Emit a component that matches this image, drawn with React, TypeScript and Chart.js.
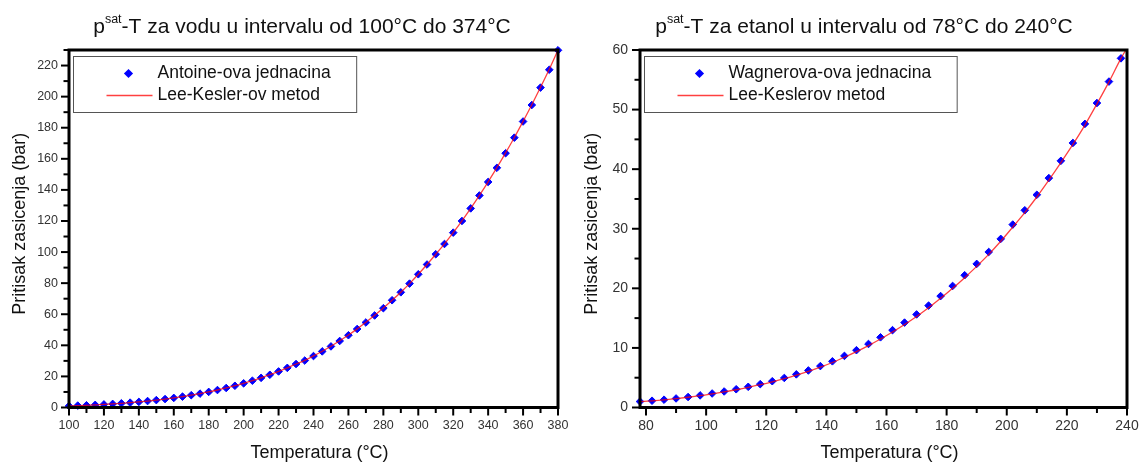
import React, { useEffect, useRef } from 'react';
import { Chart, registerables } from 'chart.js';

Chart.register(...registerables);

const FONT = '"Liberation Sans", Arial, Helvetica, sans-serif';

// ---------- Water (left panel) ----------
const waterTemps = [
  100, 105, 110, 115, 120, 125, 130, 135, 140, 145, 150, 155, 160, 165, 170, 175, 180, 185, 190,
  195, 200, 205, 210, 215, 220, 225, 230, 235, 240, 245, 250, 255, 260, 265, 270, 275, 280, 285,
  290, 295, 300, 305, 310, 315, 320, 325, 330, 335, 340, 345, 350, 355, 360, 365, 370, 375, 380,
];
const waterAntoine = [
  1.01, 1.21, 1.43, 1.69, 1.99, 2.32, 2.7, 3.13, 3.61, 4.15, 4.76, 5.43, 6.18, 7.0, 7.92, 8.92,
  10.03, 11.23, 12.55, 13.99, 15.55, 17.24, 19.08, 21.06, 23.2, 25.5, 27.97, 30.2, 33.1, 36.1,
  39.3, 42.8, 46.5, 50.5, 54.7, 59.2, 63.9, 69.0, 74.1, 79.7, 85.7, 92.0, 98.6, 105.2, 112.5,
  120.0, 128.1, 136.4, 145.1, 154.2, 163.6, 173.6, 184.0, 194.6, 205.8, 217.3, 229.8,
];
const waterLeeKesler = [
  1.0, 1.2, 1.43, 1.7, 1.99, 2.33, 2.71, 3.14, 3.62, 4.16, 4.77, 5.44, 6.19, 7.02, 7.94, 8.95,
  10.05, 11.26, 12.58, 14.02, 15.58, 17.27, 19.11, 21.09, 23.23, 25.53, 28.0, 30.3, 33.2, 36.2,
  39.4, 42.9, 46.6, 50.6, 54.8, 59.3, 64.0, 69.0, 74.2, 79.7, 85.7, 92.0, 98.6, 105.3, 112.5,
  120.1, 128.1, 136.5, 145.2, 154.3, 163.8, 173.7, 184.1, 194.8, 206.0, 217.6, 230.0,
];

// ---------- Ethanol (right panel) ----------
const ethanolTemps = [
  78, 82, 86, 90, 94, 98, 102, 106, 110, 114, 118, 122, 126, 130, 134, 138, 142, 146, 150, 154,
  158, 162, 166, 170, 174, 178, 182, 186, 190, 194, 198, 202, 206, 210, 214, 218, 222, 226, 230,
  234, 238,
];
const ethanolWagner = [
  1.0, 1.14, 1.31, 1.52, 1.76, 2.03, 2.35, 2.69, 3.06, 3.47, 3.92, 4.41, 4.96, 5.56, 6.22, 6.95,
  7.75, 8.66, 9.62, 10.66, 11.78, 12.98, 14.25, 15.62, 17.1, 18.7, 20.4, 22.2, 24.1, 26.1, 28.3,
  30.7, 33.1, 35.7, 38.5, 41.4, 44.4, 47.6, 51.1, 54.7, 58.6,
];
const ethanolLeeKeslerTemps = [
  78, 82, 86, 90, 94, 98, 102, 106, 110, 114, 118, 122, 126, 130, 134, 138, 142, 146, 150, 154,
  158, 162, 166, 170, 174, 178, 182, 186, 190, 194, 198, 202, 206, 210, 214, 218, 222, 226, 230,
  234, 238, 239.6,
];
const ethanolLeeKesler = [
  0.98, 1.12, 1.29, 1.49, 1.72, 1.98, 2.29, 2.62, 2.98, 3.38, 3.82, 4.3, 4.83, 5.42, 6.06, 6.77,
  7.55, 8.43, 9.37, 10.39, 11.49, 12.67, 13.93, 15.28, 16.74, 18.32, 20.0, 21.79, 23.69, 25.7,
  27.9, 30.28, 32.71, 35.33, 38.15, 41.1, 44.15, 47.4, 50.95, 54.65, 58.6, 60.0,
];

type Part = { text: string; sup?: boolean };

type Spec = {
  title: Part[];
  titleCX: number;
  pointsLabel: string;
  lineLabel: string;
  px: number[];
  py: number[];
  lx: number[];
  ly: number[];
  xMin: number;
  xMax: number;
  yMin: number;
  yMax: number;
  xStep: number;
  xMajor: number;
  yStep: number;
  yMajor: number;
  tickSize: number;
  pad: { left: number; right: number; top: number; bottom: number };
  xTickPad: number;
  yTickPad: number;
};

const leftSpec: Spec = {
  title: [
    { text: 'p' },
    { text: 'sat', sup: true },
    { text: '-T za vodu u intervalu od 100°C do 374°C' },
  ],
  titleCX: 302,
  pointsLabel: 'Antoine-ova jednacina',
  lineLabel: 'Lee-Kesler-ov metod',
  px: waterTemps,
  py: waterAntoine,
  lx: waterTemps,
  ly: waterLeeKesler,
  xMin: 100,
  xMax: 380,
  yMin: 0,
  yMax: 230,
  xStep: 10,
  xMajor: 20,
  yStep: 10,
  yMajor: 20,
  tickSize: 12.5,
  pad: { left: 29, right: 14, top: 50, bottom: 16.5 },
  xTickPad: 11,
  yTickPad: 11,
};

const rightSpec: Spec = {
  title: [
    { text: 'p' },
    { text: 'sat', sup: true },
    { text: '-T za etanol u intervalu od 78°C do 240°C' },
  ],
  titleCX: 292,
  pointsLabel: 'Wagnerova-ova jednacina',
  lineLabel: 'Lee-Keslerov metod',
  px: ethanolTemps,
  py: ethanolWagner,
  lx: ethanolLeeKeslerTemps,
  ly: ethanolLeeKesler,
  xMin: 78,
  xMax: 240,
  yMin: 0,
  yMax: 60,
  xStep: 10,
  xMajor: 20,
  yStep: 5,
  yMajor: 10,
  tickSize: 14,
  pad: { left: 28, right: 17, top: 50, bottom: 16.5 },
  xTickPad: 10,
  yTickPad: 12,
};

const isMajor = (v: number, m: number) => Math.abs(v / m - Math.round(v / m)) < 1e-6;

const decorPlugin = {
  id: 'decor',
  afterDraw(chart: any, _args: any, opts: any) {
    const spec: Spec = opts.spec;
    const ctx: CanvasRenderingContext2D = chart.ctx;
    const { left, right, top, bottom } = chart.chartArea;
    const xs = chart.scales.x;
    const ys = chart.scales.y;
    ctx.save();

    // minor / major tick marks
    ctx.strokeStyle = '#000';
    ctx.lineWidth = 2;
    xs.ticks.forEach((t: any) => {
      if (t.value < spec.xMin || t.value > spec.xMax) return;
      const p = xs.getPixelForValue(t.value);
      const len = isMajor(t.value, spec.xMajor) ? 6.5 : 4;
      ctx.beginPath();
      ctx.moveTo(p, bottom);
      ctx.lineTo(p, bottom + 1.5 + len);
      ctx.stroke();
    });
    ys.ticks.forEach((t: any) => {
      if (t.value < spec.yMin || t.value > spec.yMax) return;
      const p = ys.getPixelForValue(t.value);
      const len = isMajor(t.value, spec.yMajor) ? 6.5 : 4;
      ctx.beginPath();
      ctx.moveTo(left, p);
      ctx.lineTo(left - 1.5 - len, p);
      ctx.stroke();
    });

    // frame
    ctx.lineWidth = 3;
    ctx.strokeStyle = '#000';
    ctx.strokeRect(left, top, right - left, bottom - top);

    // legend
    const ds0 = chart.data.datasets[0];
    const ds1 = chart.data.datasets[1];
    ctx.font = `17.5px ${FONT}`;
    const tw = Math.max(ctx.measureText(ds0.label).width, ctx.measureText(ds1.label).width);
    const bx = left + 4.5;
    const by = top + 6.5;
    const bw = 84 + tw + 26;
    const bh = 56;
    ctx.lineWidth = 1;
    ctx.strokeStyle = '#555';
    ctx.fillStyle = '#fff';
    ctx.fillRect(bx, by, bw, bh);
    ctx.strokeRect(bx, by, bw, bh);
    const r1 = by + 17;
    const r2 = by + 39;
    // diamond marker
    const mx = bx + 55;
    const rr = 4.6;
    ctx.fillStyle = ds0.backgroundColor;
    ctx.beginPath();
    ctx.moveTo(mx, r1 - rr);
    ctx.lineTo(mx + rr, r1);
    ctx.lineTo(mx, r1 + rr);
    ctx.lineTo(mx - rr, r1);
    ctx.closePath();
    ctx.fill();
    // line sample
    ctx.strokeStyle = ds1.borderColor;
    ctx.lineWidth = ds1.borderWidth;
    ctx.beginPath();
    ctx.moveTo(bx + 33, r2);
    ctx.lineTo(bx + 79, r2);
    ctx.stroke();
    ctx.fillStyle = '#111';
    ctx.textBaseline = 'middle';
    ctx.textAlign = 'left';
    ctx.fillText(ds0.label, bx + 84, r1);
    ctx.fillText(ds1.label, bx + 84, r2);

    // title with superscript
    const mainFont = `21px ${FONT}`;
    const supFont = `12.5px ${FONT}`;
    let total = 0;
    spec.title.forEach((p) => {
      ctx.font = p.sup ? supFont : mainFont;
      total += ctx.measureText(p.text).width;
    });
    let cx = spec.titleCX - total / 2;
    const base = 33;
    ctx.textBaseline = 'alphabetic';
    ctx.fillStyle = '#111';
    spec.title.forEach((p) => {
      ctx.font = p.sup ? supFont : mainFont;
      ctx.fillText(p.text, cx, p.sup ? base - 10 : base);
      cx += ctx.measureText(p.text).width;
    });

    // axis titles
    ctx.font = `18px ${FONT}`;
    ctx.textAlign = 'center';
    ctx.textBaseline = 'middle';
    ctx.fillText('Temperatura (°C)', (left + right) / 2 + 6, 453);
    ctx.save();
    ctx.translate(20, (top + bottom) / 2 - 5);
    ctx.rotate(-Math.PI / 2);
    ctx.fillText('Pritisak zasicenja (bar)', 0, 0);
    ctx.restore();

    ctx.restore();
  },
};

function Panel({ spec, x }: { spec: Spec; x: number }) {
  const ref = useRef<HTMLCanvasElement | null>(null);
  useEffect(() => {
    if (!ref.current) return;
    const points = spec.px.map((t, i) => ({ x: t, y: spec.py[i] }));
    const line = spec.lx.map((t, i) => ({ x: t, y: spec.ly[i] }));
    const chart = new Chart(ref.current, {
      type: 'scatter',
      data: {
        datasets: [
          {
            label: spec.pointsLabel,
            data: points,
            showLine: false,
            pointStyle: 'rectRot',
            pointRadius: 3.8,
            pointBorderWidth: 1,
            backgroundColor: '#0000ff',
            borderColor: '#0000ff',
            clip: false,
            order: 1,
          } as any,
          {
            label: spec.lineLabel,
            data: line,
            showLine: true,
            pointRadius: 0,
            borderColor: 'rgba(255,0,0,0.75)',
            backgroundColor: 'rgba(255,0,0,0.75)',
            borderWidth: 1.3,
            cubicInterpolationMode: 'monotone',
            order: 0,
          } as any,
        ],
      },
      options: {
        responsive: false,
        animation: false,
        devicePixelRatio: 1,
        layout: { padding: spec.pad },
        plugins: {
          legend: { display: false },
          tooltip: { enabled: false },
          title: { display: false },
          decor: { spec },
        } as any,
        scales: {
          x: {
            type: 'linear',
            position: 'bottom',
            min: spec.xMin,
            max: spec.xMax,
            grid: { display: false, drawTicks: false },
            border: { display: false },
            ticks: {
              stepSize: spec.xStep,
              autoSkip: false,
              maxRotation: 0,
              includeBounds: false,
              padding: spec.xTickPad,
              color: '#333',
              font: { family: FONT, size: spec.tickSize },
              callback: (v: any) => (isMajor(Number(v), spec.xMajor) ? String(v) : ''),
            },
            afterFit: (s: any) => {
              s.height = 40;
              s.paddingLeft = 0;
              s.paddingRight = 0;
            },
          },
          y: {
            type: 'linear',
            position: 'left',
            min: spec.yMin,
            max: spec.yMax,
            grid: { display: false, drawTicks: false },
            border: { display: false },
            ticks: {
              stepSize: spec.yStep,
              autoSkip: false,
              includeBounds: false,
              padding: spec.yTickPad,
              color: '#333',
              font: { family: FONT, size: spec.tickSize },
              callback: (v: any) => (isMajor(Number(v), spec.yMajor) ? String(v) : ''),
            },
            afterFit: (s: any) => {
              s.width = 40;
              s.paddingTop = 0;
              s.paddingBottom = 0;
            },
          },
        } as any,
      },
      plugins: [decorPlugin as any],
    });
    return () => chart.destroy();
  }, [spec]);
  return (
    <canvas
      ref={ref}
      width={572}
      height={464}
      style={{ position: 'absolute', left: x, top: 0, width: 572, height: 464 }}
    />
  );
}

export default function App() {
  return (
    <div
      style={{
        position: 'fixed',
        left: 0,
        top: 0,
        width: 1144,
        height: 464,
        background: '#fff',
        overflow: 'hidden',
      }}
    >
      <Panel spec={leftSpec} x={0} />
      <Panel spec={rightSpec} x={572} />
    </div>
  );
}
